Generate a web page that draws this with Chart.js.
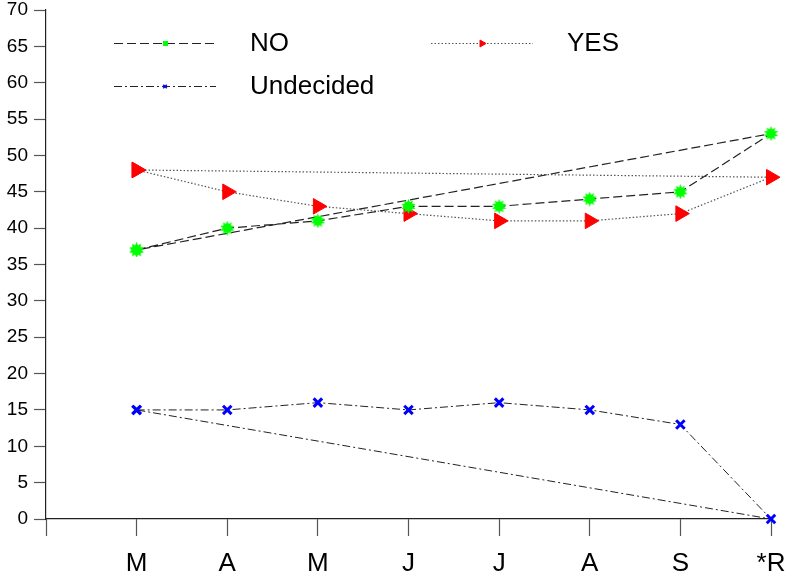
<!DOCTYPE html>
<html>
<head>
<meta charset="utf-8">
<script src="https://cdn.jsdelivr.net/npm/chart.js@4/dist/chart.umd.min.js"></script>
<style>
  html, body { margin: 0; padding: 0; background: #fff; }
  #wrap { width: 787px; height: 575px; position: relative; }
</style>
</head>
<body>
<div id="wrap"><canvas id="poll"></canvas></div>
<script>
// poll values per month, last column is the result
const months = ["M", "A", "M", "J", "J", "A", "S", "*R"];
const noValues = [37, 40, 41, 43, 43, 44, 45, 53];
const yesValues = [48, 45, 43, 42, 41, 41, 42, 47];
const undecidedValues = [15, 15, 16, 15, 16, 15, 13, 0];
const yTicks = [0, 5, 10, 15, 20, 25, 30, 35, 40, 45, 50, 55, 60, 65, 70];

const FONT = "'Liberation Sans', Arial, sans-serif";

// each series is drawn as a closed loop: back from the last point to the first
function loop(values) {
  const pts = values.map((v, i) => ({ x: i, y: v }));
  pts.push({ x: 0, y: values[0] });
  return pts;
}

// green burst marker
function makeBurst(size, color) {
  const c = document.createElement("canvas");
  c.width = size; c.height = size;
  const g = c.getContext("2d");
  const cx = size / 2, cy = size / 2, ro = size / 2, ri = size * 0.3;
  g.beginPath();
  for (let k = 0; k < 20; k++) {
    const r = k % 2 ? ri : ro;
    const a = (Math.PI * k) / 10 - Math.PI / 2;
    g.lineTo(cx + r * Math.cos(a), cy + r * Math.sin(a));
  }
  g.closePath();
  g.fillStyle = color;
  g.fill();
  return c;
}
const burst = makeBurst(15, "#00ff00");
const burstSmall = (() => {
  const c = document.createElement("canvas");
  c.width = 5; c.height = 5;
  const g = c.getContext("2d");
  g.fillStyle = "#00ff00";
  g.fillRect(0, 0, 5, 5);
  return c;
})();

const datasets = [
  {
    label: "NO",
    data: loop(noValues),
    borderColor: "#222",
    borderWidth: 1.2,
    borderDash: [9, 4],
    pointStyle: burst,
    legendPoint: { pointStyle: burstSmall, radius: 3, rotation: 0, color: "#00ff00", width: 1 },
    pointRadius: 7,
  },
  {
    label: "YES",
    data: loop(yesValues),
    borderColor: "#555",
    borderWidth: 1.2,
    borderDash: [1.5, 2],
    pointStyle: "triangle",
    rotation: 90,
    pointRadius: 9,
    pointBackgroundColor: "#ff0000",
    pointBorderColor: "#ff0000",
    pointBorderWidth: 1,
    legendPoint: { pointStyle: "triangle", radius: 4, rotation: 90, color: "#ff0000", width: 1 },
  },
  {
    label: "Undecided",
    data: loop(undecidedValues),
    borderColor: "#222",
    borderWidth: 1,
    borderDash: [8, 3, 2, 3],
    pointStyle: "crossRot",
    pointRadius: 6,
    pointBorderColor: "#0000ff",
    pointBorderWidth: 3,
    legendPoint: { pointStyle: "crossRot", radius: 2.5, rotation: 0, color: "#0000ff", width: 1.5 },
  },
];

// legend drawn in two columns like the original plot
const legendSlots = [
  { x: 114, y: 43 },
  { x: 431, y: 43 },
  { x: 114, y: 86 },
];

const legendPlugin = {
  id: "pollLegend",
  afterDraw(chart) {
    const ctx = chart.ctx;
    chart.data.datasets.forEach((ds, i) => {
      const s = legendSlots[i];
      ctx.save();
      ctx.strokeStyle = ds.borderColor;
      ctx.lineWidth = ds.borderWidth;
      ctx.setLineDash(ds.borderDash);
      ctx.beginPath();
      ctx.moveTo(s.x, s.y + 0.5);
      ctx.lineTo(s.x + 102, s.y + 0.5);
      ctx.stroke();
      ctx.setLineDash([]);
      const lp = ds.legendPoint;
      ctx.fillStyle = lp.color;
      ctx.strokeStyle = lp.color;
      ctx.lineWidth = lp.width;
      Chart.helpers.drawPoint(ctx, { pointStyle: lp.pointStyle, radius: lp.radius, rotation: lp.rotation, borderWidth: lp.width }, s.x + 51, s.y + 0.5);
      ctx.fillStyle = "#000";
      ctx.font = "26px " + FONT;
      ctx.textBaseline = "middle";
      ctx.fillText(ds.label, s.x + 136, s.y + 1);
      ctx.restore();
    });
  },
};

new Chart(document.getElementById("poll"), {
  type: "line",
  data: { datasets },
  options: {
    responsive: true,
    maintainAspectRatio: false,
    animation: false,
    clip: false,
    layout: { padding: { top: 10, right: 16, left: 0, bottom: 0 } },
    plugins: { legend: { display: false }, tooltip: { enabled: false } },
    scales: {
      x: {
        type: "linear",
        min: -1,
        max: 7,
        afterBuildTicks: (s) => { s.ticks = [-1, 0, 1, 2, 3, 4, 5, 6, 7].map((v) => ({ value: v })); },
        afterFit: (s) => { s.height = 56; s.paddingLeft = 0; s.paddingRight = 0; },
        ticks: {
          callback: (v) => months[v] || "",
          font: { family: FONT, size: 26 },
          color: "#000",
          padding: 12,
          maxRotation: 0,
          autoSkip: false,
        },
        grid: { drawOnChartArea: false, tickLength: 17, color: "#555", tickWidth: 1.2 },
        border: { color: "#222", width: 1.2 },
      },
      y: {
        min: 0,
        max: 70,
        afterBuildTicks: (s) => { s.ticks = yTicks.map((v) => ({ value: v })); },
        afterFit: (s) => { s.width = 46; s.paddingTop = 0; s.paddingBottom = 0; },
        ticks: {
          font: { family: FONT, size: 19 },
          color: "#000",
          padding: 6,
        },
        grid: { drawOnChartArea: false, tickLength: 12, color: "#555", tickWidth: 1.2 },
        border: { color: "#222", width: 1.2 },
      },
    },
  },
  plugins: [legendPlugin],
});
</script>
</body>
</html>
